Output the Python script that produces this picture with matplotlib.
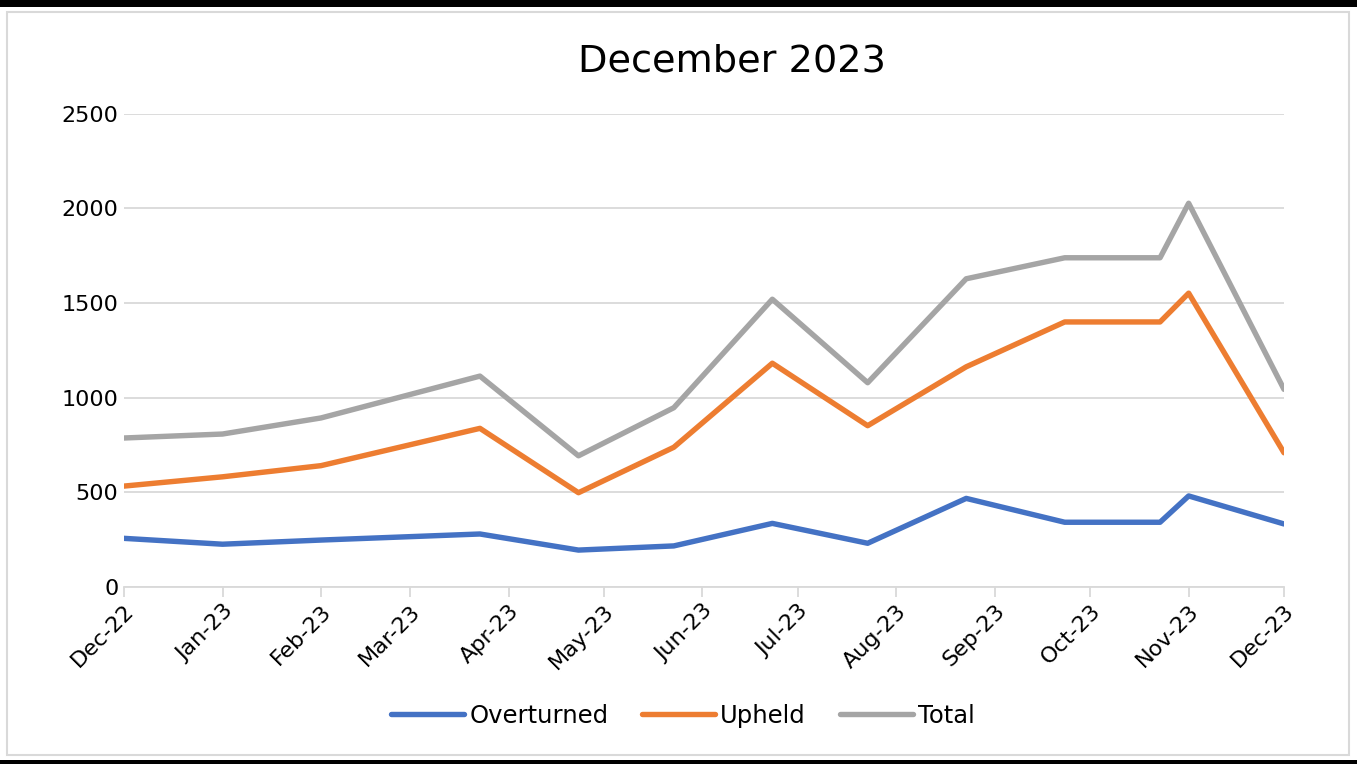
import matplotlib
matplotlib.use("Agg")
import matplotlib.pyplot as plt
import matplotlib.dates as mdates
from matplotlib.patches import Rectangle
import pandas as pd

# Monthly review outcomes
dates = ["2022-12-01", "2023-01-01", "2023-02-01", "2023-03-23", "2023-04-23",
         "2023-05-23", "2023-06-23", "2023-07-23", "2023-08-23", "2023-09-23",
         "2023-10-23", "2023-11-01", "2023-12-01"]
overturned = [257, 226, 248, 280, 195, 217, 336, 231, 468, 342, 342, 481, 333]
upheld = [533, 582, 641, 838, 498, 738, 1182, 852, 1163, 1400, 1400, 1552, 709]
total = [787, 808, 893, 1114, 693, 947, 1520, 1079, 1628, 1739, 1739, 2027, 1044]

series_names = ["Overturned", "Upheld", "Total"]
series_colors = ["#4472C4", "#ED7D31", "#A5A5A5"]
title = "December 2023"

x = pd.to_datetime(dates)

plt.rcParams["font.family"] = ["DejaVu Sans"]

fig = plt.figure(figsize=(13.57, 7.64), dpi=100)
ax = fig.add_axes([124 / 1357, 1 - 587 / 764, (1284 - 124) / 1357, (587 - 113.7) / 764])

# outer chart frame and dark edges
fig.patches.append(Rectangle((7 / 1357, 1 - 755 / 764), 1342 / 1357, 743 / 764,
                             transform=fig.transFigure, facecolor="none",
                             edgecolor="#d9d9d9", lw=1.5, zorder=0))
fig.patches.append(Rectangle((0, 1 - 7 / 764), 1, 7 / 764, transform=fig.transFigure,
                             facecolor="black", edgecolor="none"))
fig.patches.append(Rectangle((0, 0), 1, 4 / 764, transform=fig.transFigure,
                             facecolor="black", edgecolor="none"))

for vals, name, col in zip([overturned, upheld, total], series_names, series_colors):
    ax.plot(x, vals, color=col, lw=3.9, label=name,
            solid_capstyle="round", solid_joinstyle="round", zorder=3)

ax.set_ylim(0, 2500)
ax.set_yticks(range(0, 2501, 500))
ax.set_xlim(pd.Timestamp("2022-12-01"), pd.Timestamp("2023-12-01"))
ax.xaxis.set_major_locator(mdates.MonthLocator())
ax.xaxis.set_major_formatter(mdates.DateFormatter("%b-%y"))

ax.grid(axis="y", color="#d9d9d9", lw=1.3, zorder=0)
for side in ["top", "right", "left"]:
    ax.spines[side].set_visible(False)
ax.spines["bottom"].set_color("#d9d9d9")
ax.spines["bottom"].set_linewidth(1.3)
ax.tick_params(axis="y", length=0, labelsize=16, colors="black", pad=4)
ax.tick_params(axis="x", length=7, width=1.3, color="#d9d9d9", labelsize=16,
               labelcolor="black", pad=3)
plt.setp(ax.get_xticklabels(), rotation=45, ha="right", rotation_mode="anchor")

fig.text(732 / 1357, 1 - 62 / 764, title, ha="center", va="center", fontsize=27.5)

leg = fig.legend(loc="center", bbox_to_anchor=(683 / 1357, 1 - 716 / 764), ncol=3,
                 frameon=False, fontsize=17.5, handlelength=3.0, handletextpad=0.2,
                 columnspacing=1.4)

fig.savefig("out.png", dpi=100)
